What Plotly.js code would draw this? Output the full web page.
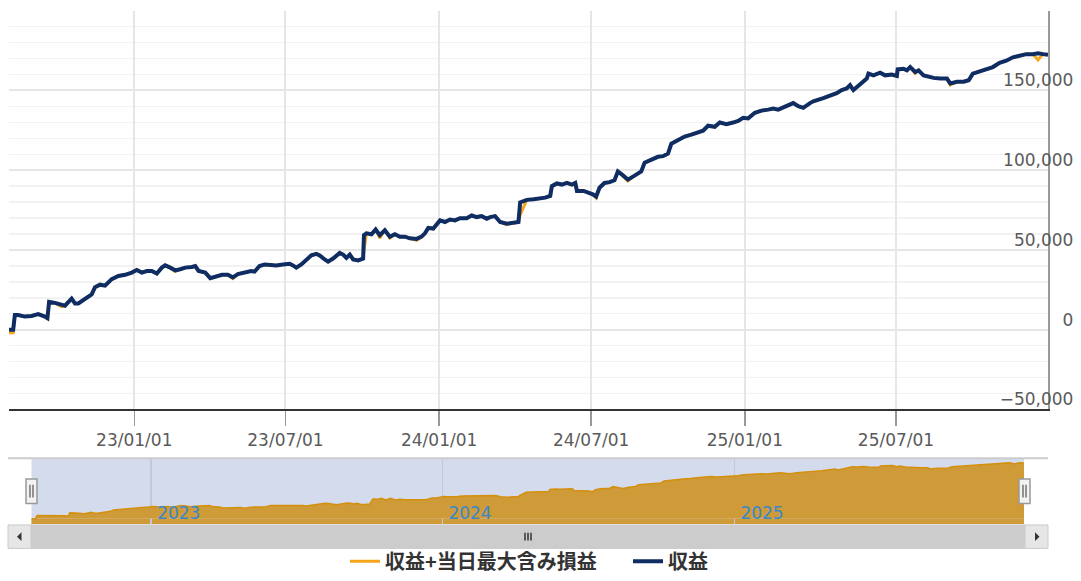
<!DOCTYPE html>
<html>
<head>
<meta charset="utf-8">
<script src="https://cdn.plot.ly/plotly-3.0.1.min.js"></script>
<style>html,body{margin:0;padding:0;background:#fff;}#chart{width:1081px;height:581px;}</style>
</head>
<body>
<div id="chart"></div>
<script>
// ---- data ----
const dates = [
'2022-08-04','2022-08-09','2022-08-11','2022-08-15','2022-08-23','2022-08-31','2022-09-08','2022-09-12','2022-09-16','2022-09-19',
'2022-09-21','2022-09-28','2022-10-06','2022-10-10','2022-10-18','2022-10-22','2022-10-26','2022-11-03','2022-11-11','2022-11-15',
'2022-11-21','2022-11-27','2022-12-05','2022-12-13','2022-12-21','2022-12-29','2023-01-04','2023-01-10','2023-01-16','2023-01-22',
'2023-01-28','2023-02-03','2023-02-07','2023-02-13','2023-02-19','2023-02-25','2023-03-03','2023-03-11','2023-03-15','2023-03-19',
'2023-03-27','2023-04-02','2023-04-08','2023-04-16','2023-04-23','2023-04-29','2023-05-05','2023-05-13','2023-05-21','2023-05-25',
'2023-05-31','2023-06-06','2023-06-14','2023-06-20','2023-06-28','2023-07-06','2023-07-10','2023-07-14','2023-07-20','2023-07-26',
'2023-08-01','2023-08-07','2023-08-11','2023-08-17','2023-08-21','2023-08-27','2023-09-04','2023-09-08','2023-09-12','2023-09-16',
'2023-09-20','2023-09-26','2023-10-02','2023-10-03','2023-10-06','2023-10-12','2023-10-17','2023-10-22','2023-10-28','2023-11-03',
'2023-11-09','2023-11-15','2023-11-21','2023-11-27','2023-12-05','2023-12-11','2023-12-15','2023-12-19','2023-12-25','2024-01-02',
'2024-01-08','2024-01-14','2024-01-20','2024-01-26','2024-02-03','2024-02-09','2024-02-15','2024-02-21','2024-02-27','2024-03-02',
'2024-03-08','2024-03-14','2024-03-22','2024-03-30','2024-04-05','2024-04-07','2024-04-15','2024-04-23','2024-04-29','2024-05-07',
'2024-05-13','2024-05-15','2024-05-21','2024-05-27','2024-06-02','2024-06-08','2024-06-12','2024-06-14','2024-06-22','2024-06-28',
'2024-07-03','2024-07-07','2024-07-11','2024-07-17','2024-07-23','2024-07-29','2024-08-02','2024-08-07','2024-08-14','2024-08-22',
'2024-08-30','2024-09-03','2024-09-11','2024-09-19','2024-09-25','2024-10-01','2024-10-05','2024-10-13','2024-10-21','2024-10-29',
'2024-11-06','2024-11-12','2024-11-18','2024-11-26','2024-12-02','2024-12-10','2024-12-18','2024-12-24','2024-12-30','2025-01-05',
'2025-01-13','2025-01-21','2025-01-29','2025-02-04','2025-02-10','2025-02-18','2025-02-28','2025-03-06','2025-03-12','2025-03-20',
'2025-03-24','2025-04-05','2025-04-13','2025-04-21','2025-04-27','2025-05-03','2025-05-07','2025-05-11','2025-05-17','2025-05-23',
'2025-05-27','2025-05-29','2025-06-04','2025-06-12','2025-06-18','2025-06-26','2025-07-02','2025-07-03','2025-07-10','2025-07-14',
'2025-07-18','2025-07-24','2025-07-28','2025-08-03','2025-08-09','2025-08-15','2025-08-23','2025-08-31','2025-09-04','2025-09-12',
'2025-09-20','2025-09-26','2025-10-01','2025-10-09','2025-10-17','2025-10-25','2025-11-02','2025-11-10','2025-11-18','2025-11-26',
'2025-12-04','2025-12-12','2025-12-18','2025-12-24','2025-12-30'
];
// 収益
const profit = [
0,0,9200,9200,8200,8600,9800,9200,8200,7200,
17400,16800,15300,15000,19400,16400,16400,19400,22100,26600,
28200,27600,31700,33700,34400,35800,37400,35800,36800,36800,
35200,38900,40300,38900,37200,37900,38900,39300,39900,36800,
35800,32300,33100,34400,34400,32800,34800,35800,36800,36400,
39900,40900,40500,40300,40900,41300,40300,38900,40900,44000,
46600,47500,46600,44000,42600,44600,48100,47100,45000,47100,
44000,43400,44600,59300,60400,59800,62800,59300,62400,58300,
59800,58300,58300,57300,56900,58300,60400,63800,63400,68500,
67500,69100,68500,69900,69900,71600,70600,71200,69600,70600,
71200,67500,66500,67100,67500,79800,81400,81800,82200,82800,
83900,90000,91700,91000,92000,91000,92000,87000,87000,85900,
84900,83400,89000,92000,92500,93700,99200,97200,94100,96600,
99200,104700,106400,108400,108800,110400,116600,119000,121100,122300,
123700,124800,127900,127200,129900,128800,129900,130900,132900,132500,
136000,137400,138000,138700,138000,140100,142100,140100,139100,142100,
143200,145200,146900,148300,150300,151300,153400,150300,153000,155800,
157500,160600,159500,161200,159500,160000,159100,163200,163600,162600,
164700,161600,162600,159500,158500,157900,157500,157500,154400,155500,
155500,156400,160600,162000,163600,164700,167300,168700,170800,171800,
172800,172800,173400,172800,172400
];
// 収益+当日最大含み損益
const profitWithMaxUnrealized = [
-2000,-2000,9200,9200,8200,8600,9800,9200,8200,6500,
17400,16800,14500,15000,19400,16400,16400,19400,22100,26600,
28200,27600,31700,33700,34400,35800,37400,35800,36800,36800,
35200,38900,40300,38900,36400,37900,38900,39300,39900,36800,
35800,32300,33100,34400,34400,32000,34800,35800,36800,36400,
39900,40900,40500,40300,40900,41300,40300,38900,40900,44000,
46600,47500,46600,44000,42600,44600,48100,47100,45000,47100,
44000,43400,44600,50000,60400,59800,62800,57500,62400,57500,
59800,58300,58300,57300,56000,58300,60400,63800,63400,68500,
67500,69100,68500,69900,69900,71600,70600,71200,69600,70600,
71200,67500,65800,67100,67500,72000,81400,81800,82200,82800,
83900,90000,91700,91000,92000,91000,92000,87000,87000,85900,
84900,82600,89000,92000,92500,93700,99200,97200,93300,96600,
99200,104700,106400,108400,108800,110400,116600,119000,121100,122300,
123700,124800,127900,127200,129900,128800,129900,130900,132900,132500,
136000,137400,138000,138700,138000,140100,142100,140100,139100,142100,
143200,145200,146900,148300,150300,151300,153400,150300,153000,155800,
157500,160600,159500,161200,159500,160000,159100,163200,163600,162600,
164700,160800,162600,159500,158500,157900,157500,157500,153500,155500,
155500,156400,160600,162000,163600,164700,167300,168700,170800,171800,
172800,172800,169100,172800,172400
];
const seriesNames = ['収益+当日最大含み損益', '収益'];
const yTickVals = [-50000, 0, 50000, 100000, 150000, 200000];
const yTickText = ['−50,000', '0', '50,000', '100,000', '150,000', ''];

// ---- layout helpers (pixel -> paper) ----
const W = 1081, H = 581;
const px = x => x / W;
const py = y => 1 - y / H;

const traces = [
  {x: dates, y: profitWithMaxUnrealized, name: seriesNames[0], type: 'scatter', mode: 'lines',
   line: {color: '#f7a51d', width: 3}, xaxis: 'x', yaxis: 'y'},
  {x: dates, y: profit, name: seriesNames[1], type: 'scatter', mode: 'lines',
   line: {color: '#0f2d62', width: 4}, xaxis: 'x', yaxis: 'y'},
  {x: dates, y: profitWithMaxUnrealized, name: seriesNames[0], type: 'scatter', mode: 'lines',
   fill: 'tozeroy', fillcolor: '#cf9a38', line: {color: '#d4900c', width: 1.5},
   xaxis: 'x2', yaxis: 'y2', showlegend: false, hoverinfo: 'skip'}
];

const tickFont = {family: 'DejaVu Sans', size: 17, color: '#5a5a5a'};

const SB_TOP = 536, SB_BOT = 560, SB_MID = 548;
const shapes = [
  // navigator background (selected range mask)
  {type: 'rect', xref: 'x2 domain', yref: 'y2 domain', x0: 0, x1: 1, y0: 0, y1: 1,
   fillcolor: '#d3dbec', line: {width: 0}, layer: 'below'},
  // area continues down to the navigator floor
  {type: 'rect', xref: 'x2 domain', yref: 'y2', x0: 0, x1: 1, y0: -17000, y1: 0,
   fillcolor: '#cf9a38', line: {width: 0}, layer: 'below'},
  // navigator outline
  {type: 'line', xref: 'paper', yref: 'paper', x0: px(8), x1: px(1048), y0: py(468), y1: py(468),
   line: {color: '#cccccc', width: 2}},
  // scrollbar track + thumb
  {type: 'rect', xref: 'paper', yref: 'paper', x0: px(8), x1: px(1048), y0: py(SB_BOT), y1: py(SB_TOP),
   fillcolor: '#f2f2f2', line: {width: 0}},
  {type: 'rect', xref: 'paper', yref: 'paper', x0: px(31), x1: px(1025), y0: py(SB_BOT), y1: py(SB_TOP),
   fillcolor: '#cccccc', line: {color: '#cccccc', width: 1}},
  // scrollbar buttons
  {type: 'rect', xref: 'paper', yref: 'paper', x0: px(8), x1: px(31), y0: py(SB_BOT), y1: py(SB_TOP),
   fillcolor: '#e6e6e6', line: {color: '#cccccc', width: 1}},
  {type: 'rect', xref: 'paper', yref: 'paper', x0: px(1025), x1: px(1048), y0: py(SB_BOT), y1: py(SB_TOP),
   fillcolor: '#e6e6e6', line: {color: '#cccccc', width: 1}},
  {type: 'path', xref: 'paper', yref: 'paper',
   path: `M ${px(17)} ${py(SB_MID)} L ${px(21.5)} ${py(SB_MID - 4.5)} L ${px(21.5)} ${py(SB_MID + 4.5)} Z`,
   fillcolor: '#333333', line: {width: 0}},
  {type: 'path', xref: 'paper', yref: 'paper',
   path: `M ${px(1039.5)} ${py(SB_MID)} L ${px(1035)} ${py(SB_MID - 4.5)} L ${px(1035)} ${py(SB_MID + 4.5)} Z`,
   fillcolor: '#333333', line: {width: 0}},
  // scrollbar grip
  ...[525, 528, 531].map(x => ({type: 'line', xref: 'paper', yref: 'paper', x0: px(x), x1: px(x),
   y0: py(SB_MID - 4), y1: py(SB_MID + 4), line: {color: '#333333', width: 1.5}})),
  // navigator handles
  ...[31.5, 1024.5].flatMap(c => [
    {type: 'rect', xref: 'paper', yref: 'paper', x0: px(c - 5.5), x1: px(c + 5.5), y0: py(514), y1: py(489),
     fillcolor: '#f2f2f2', line: {color: '#999999', width: 1.5}},
    {type: 'line', xref: 'paper', yref: 'paper', x0: px(c - 1.5), x1: px(c - 1.5), y0: py(495), y1: py(508),
     line: {color: '#333333', width: 1}},
    {type: 'line', xref: 'paper', yref: 'paper', x0: px(c + 1.5), x1: px(c + 1.5), y0: py(495), y1: py(508),
     line: {color: '#333333', width: 1}}
  ])
];

const layout = {
  width: W, height: H,
  margin: {l: 0, r: 0, t: 0, b: 0},
  paper_bgcolor: '#ffffff', plot_bgcolor: '#ffffff',
  showlegend: true,
  legend: {orientation: 'h', x: px(345), xanchor: 'left', y: py(573), yanchor: 'middle',
    entrywidth: 238, entrywidthmode: 'pixels',
    font: {family: 'Noto Sans CJK JP', size: 20, weight: 'bold', color: '#333333'},
    bgcolor: 'rgba(0,0,0,0)', itemclick: false},
  xaxis: {type: 'date', domain: [px(9), px(1048)], range: [dates[0], dates[dates.length - 1]],
    anchor: 'y', tickformat: '%y/%m/%d', dtick: 'M6', tick0: '2023-01-01',
    ticks: 'outside', ticklen: 15, tickwidth: 1.5, tickcolor: '#999999',
    showline: true, linecolor: '#333333', linewidth: 1.5,
    showgrid: true, gridcolor: '#e6e6e6', gridwidth: 2, zeroline: false,
    tickfont: tickFont, automargin: false, fixedrange: true},
  yaxis: {domain: [py(418), py(11)], range: [-50000, 200000], anchor: 'x', side: 'right',
    tickmode: 'array', tickvals: yTickVals, ticktext: yTickText,
    ticklabelposition: 'inside', ticklabelstandoff: -25, ticklabelshift: -10, ticks: '',
    showline: true, linecolor: '#999999', linewidth: 1.5,
    showgrid: true, gridcolor: '#e6e6e6', gridwidth: 2, zeroline: false,
    minor: {dtick: 10000, tick0: 0, showgrid: true, gridcolor: '#f2f2f2', gridwidth: 1.5},
    tickfont: tickFont, automargin: false, fixedrange: true},
  xaxis2: {type: 'date', domain: [px(31.5), px(1024)], range: [dates[0], dates[dates.length - 1]],
    anchor: 'y2', tickformat: '%Y', dtick: 'M12', tick0: '2023-01-01',
    ticklabelposition: 'inside right', ticklabelstandoff: -4, ticklabelshift: 6, ticks: '',
    showgrid: true, gridcolor: '#c3c9d6', gridwidth: 1.5, showline: false, zeroline: false,
    tickfont: {family: 'DejaVu Sans', size: 17, color: '#3589cf'}, automargin: false, fixedrange: true},
  yaxis2: {domain: [py(535), py(468)], range: [-17000, 186600], anchor: 'x2',
    showgrid: false, showticklabels: false, zeroline: false, ticks: '', fixedrange: true},
  shapes: shapes
};

Plotly.newPlot('chart', traces, layout, {displayModeBar: false, staticPlot: true});
</script>
</body>
</html>
